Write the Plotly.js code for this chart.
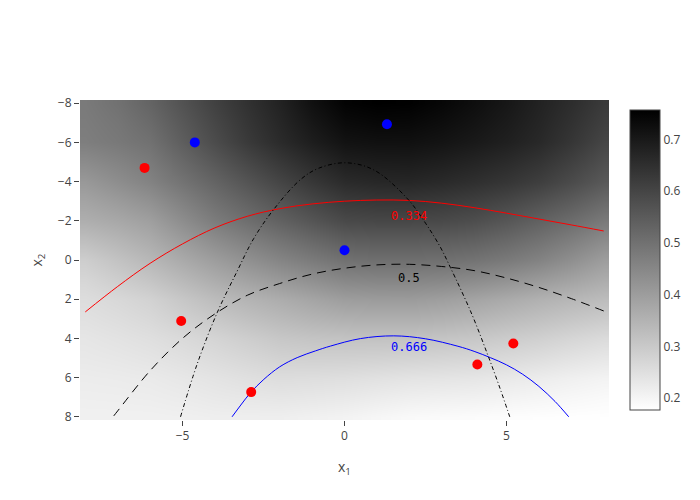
<!DOCTYPE html>
<html>
<head>
<meta charset="utf-8">
<script src="https://cdn.plot.ly/plotly-3.0.1.min.js"></script>
<style>html,body{margin:0;padding:0;background:#fff;}</style>
</head>
<body>
<div id="chart" style="width:700px;height:500px;"></div>
<script>
// Grid of the probability map (cell centres)
const gridX = [-8, -7, -6, -5, -4, -3, -2, -1, 0, 1, 2, 3, 4, 5, 6, 7, 8];
const gridY = [-8, -7, -6, -5, -4, -3, -2, -1, 0, 1, 2, 3, 4, 5, 6, 7, 8];
const probRowM8 = [0.48, 0.50, 0.53, 0.57, 0.61, 0.645, 0.68, 0.72, 0.75, 0.757, 0.755, 0.742, 0.725, 0.705, 0.68, 0.655, 0.625];
const probRowM7 = [0.475, 0.49, 0.515, 0.556, 0.597, 0.635, 0.67, 0.705, 0.733, 0.74, 0.738, 0.727, 0.713, 0.695, 0.673, 0.645, 0.613];
const probRowM6 = [0.47, 0.483, 0.50, 0.543, 0.585, 0.625, 0.66, 0.69, 0.715, 0.72, 0.72, 0.712, 0.70, 0.685, 0.665, 0.635, 0.60];
const probRowM5 = [0.44, 0.459, 0.48, 0.519, 0.558, 0.595, 0.63, 0.661, 0.688, 0.694, 0.695, 0.687, 0.675, 0.66, 0.64, 0.611, 0.578];
const probRowM4 = [0.41, 0.435, 0.46, 0.495, 0.53, 0.565, 0.60, 0.632, 0.66, 0.668, 0.67, 0.662, 0.65, 0.635, 0.615, 0.587, 0.555];
const probRowM3 = [0.385, 0.405, 0.428, 0.465, 0.503, 0.535, 0.568, 0.598, 0.625, 0.632, 0.633, 0.626, 0.615, 0.598, 0.575, 0.549, 0.518];
const probRowM2 = [0.36, 0.375, 0.395, 0.435, 0.475, 0.505, 0.535, 0.563, 0.59, 0.595, 0.595, 0.59, 0.58, 0.56, 0.535, 0.51, 0.48];
const probRowM1 = [0.325, 0.345, 0.368, 0.403, 0.438, 0.467, 0.495, 0.521, 0.545, 0.55, 0.55, 0.546, 0.538, 0.52, 0.498, 0.471, 0.44];
const probRow0  = [0.29, 0.315, 0.34, 0.37, 0.40, 0.428, 0.455, 0.478, 0.50, 0.505, 0.505, 0.502, 0.495, 0.48, 0.46, 0.432, 0.40];
const probRowP1 = [0.27, 0.29, 0.31, 0.337, 0.365, 0.388, 0.41, 0.43, 0.45, 0.455, 0.455, 0.45, 0.44, 0.425, 0.407, 0.387, 0.365];
const probRowP2 = [0.255, 0.266, 0.28, 0.305, 0.33, 0.348, 0.365, 0.383, 0.40, 0.404, 0.405, 0.397, 0.385, 0.37, 0.355, 0.342, 0.33];
const probRowP3 = [0.245, 0.254, 0.265, 0.284, 0.302, 0.319, 0.335, 0.348, 0.357, 0.36, 0.36, 0.354, 0.345, 0.332, 0.32, 0.307, 0.295];
const probRowP4 = [0.235, 0.242, 0.25, 0.262, 0.275, 0.29, 0.305, 0.312, 0.315, 0.316, 0.315, 0.311, 0.305, 0.295, 0.285, 0.272, 0.26];
const probRowP5 = [0.228, 0.232, 0.238, 0.247, 0.258, 0.269, 0.28, 0.283, 0.283, 0.281, 0.278, 0.274, 0.27, 0.262, 0.253, 0.242, 0.232];
const probRowP6 = [0.22, 0.222, 0.225, 0.232, 0.24, 0.248, 0.255, 0.253, 0.25, 0.245, 0.24, 0.238, 0.235, 0.228, 0.22, 0.212, 0.205];
const probRowP7 = [0.215, 0.216, 0.218, 0.222, 0.228, 0.232, 0.235, 0.232, 0.228, 0.221, 0.215, 0.212, 0.21, 0.205, 0.20, 0.195, 0.19];
const probRowP8 = [0.21, 0.21, 0.21, 0.212, 0.215, 0.215, 0.215, 0.21, 0.205, 0.197, 0.19, 0.187, 0.185, 0.182, 0.18, 0.179, 0.178];

// Iso-probability lines
const line334X = [-8, -7, -6, -5, -4, -3, -2, -1, 0, 1, 2, 3, 4, 5, 6, 7, 8];
const line334Y = [2.65, 1.35, 0.17, -0.82, -1.64, -2.23, -2.62, -2.86, -3.0, -3.06, -3.04, -2.9, -2.67, -2.39, -2.09, -1.79, -1.48];
const line500X = [-7.12, -7, -6, -5, -4, -3, -2, -1, 0, 1, 2, 3, 4, 5, 6, 7, 8];
const line500Y = [7.95, 7.7, 5.65, 4.0, 2.75, 1.8, 1.2, 0.72, 0.42, 0.25, 0.22, 0.33, 0.54, 0.92, 1.4, 1.97, 2.6];
const line666X = [-3.47, -3.2, -2.9, -2.49, -2.0, -1.46, -0.9, -0.43, 0.49, 1.52, 2.5, 3.5, 4.0, 4.5, 5.0, 5.5, 6.0, 6.5, 6.92];
const line666Y = [8.0, 7.4, 6.77, 6.09, 5.45, 4.98, 4.64, 4.39, 4.01, 3.87, 4.02, 4.4, 4.66, 4.98, 5.35, 5.83, 6.45, 7.22, 8.0];
// True decision boundary
const boundaryX = [-5.06, -4.55, -3.93, -3.31, -2.8, -2.18, -1.36, -0.8, 0.03, 0.9, 1.93, 2.5, 2.96, 3.27, 3.9, 4.4, 4.8, 5.1];
const boundaryY = [8.0, 5.32, 2.69, 0.56, -1.1, -2.59, -4.1, -4.68, -4.96, -4.6, -3.15, -1.88, -0.65, 0.39, 2.65, 4.75, 6.55, 8.0];

// Observations
const redX = [-6.17, -5.04, -2.88, 4.10, 5.21];
const redY = [-4.70, 3.11, 6.74, 5.33, 4.26];
const blueX = [-4.62, 1.31, 0.0];
const blueY = [-6.00, -6.93, -0.50];

const levelLabels = ['0.334', '0.5', '0.666'];

const probZ = [probRowM8, probRowM7, probRowM6, probRowM5, probRowM4, probRowM3, probRowM2, probRowM1,
               probRow0, probRowP1, probRowP2, probRowP3, probRowP4, probRowP5, probRowP6, probRowP7, probRowP8];

const traces = [
  {
    type: 'heatmap', x: gridX, y: gridY, z: probZ,
    zsmooth: 'best', zmin: 0.177, zmax: 0.757,
    colorscale: [[0, 'rgb(255,255,255)'], [1, 'rgb(0,0,0)']],
    colorbar: {dtick: 0.1, tick0: 0, tickfont: {color: '#444', size: 12}},
    hoverinfo: 'skip'
  },
  {type: 'scatter', mode: 'lines', x: line334X, y: line334Y,
   line: {color: 'red', width: 1, shape: 'spline'}},
  {type: 'scatter', mode: 'lines', x: line500X, y: line500Y,
   line: {color: 'black', width: 1, shape: 'spline', dash: '9px,6px'}},
  {type: 'scatter', mode: 'lines', x: line666X, y: line666Y,
   line: {color: 'blue', width: 1, shape: 'spline'}},
  {type: 'scatter', mode: 'lines', x: boundaryX, y: boundaryY,
   line: {color: 'black', width: 1, shape: 'spline', dash: '4px,2.5px,1px,2.5px'}},
  {type: 'scatter', mode: 'markers', x: redX, y: redY,
   marker: {color: 'red', size: 10}},
  {type: 'scatter', mode: 'markers', x: blueX, y: blueY,
   marker: {color: 'blue', size: 10}}
];

const labelFont = {family: '"DejaVu Sans Mono", "Liberation Mono", monospace', size: 12};
const layout = {
  width: 700, height: 500,
  showlegend: false,
  paper_bgcolor: '#fff', plot_bgcolor: '#fff',
  margin: {l: 80, r: 80, t: 100, b: 80},
  xaxis: {
    range: [-8.163, 8.163], dtick: 5, tick0: 0,
    ticks: 'outside', showgrid: false, zeroline: false,
    tickfont: {color: '#444', size: 12},
    title: {text: 'x<sub>1</sub>', font: {color: '#444', size: 14}}
  },
  yaxis: {
    range: [8.163, -8.163], dtick: 2, tick0: 0,
    ticks: 'outside', showgrid: false, zeroline: false,
    tickfont: {color: '#444', size: 12},
    title: {text: 'x<sub>2</sub>', font: {color: '#444', size: 14}}
  },
  annotations: [
    {x: 2.0, y: -2.24, text: levelLabels[0], showarrow: false, font: Object.assign({color: 'red'}, labelFont)},
    {x: 2.0, y: 0.92, text: levelLabels[1], showarrow: false, font: Object.assign({color: 'black'}, labelFont)},
    {x: 2.0, y: 4.45, text: levelLabels[2], showarrow: false, font: Object.assign({color: 'blue'}, labelFont)}
  ]
};

Plotly.newPlot('chart', traces, layout, {displayModeBar: false, staticPlot: true});
</script>
</body>
</html>
